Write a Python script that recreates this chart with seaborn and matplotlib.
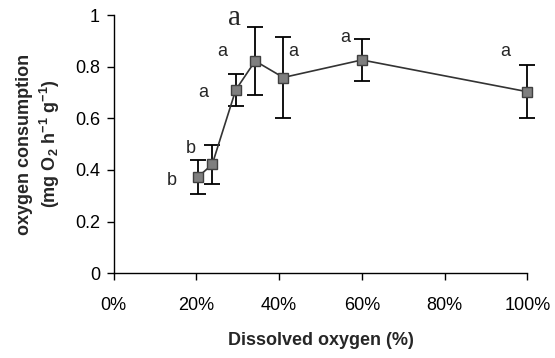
import matplotlib
matplotlib.use("Agg")
import matplotlib.pyplot as plt
import seaborn as sns
import pandas as pd
from matplotlib.ticker import PercentFormatter, MultipleLocator

dissolved_oxygen = [0.203, 0.238, 0.295, 0.342, 0.410, 0.600, 1.000]
consumption = [0.372, 0.421, 0.710, 0.822, 0.758, 0.826, 0.703]
error = [0.067, 0.075, 0.062, 0.130, 0.155, 0.083, 0.103]
letters = ["b", "b", "a", "a", "a", "a", "a"]
letter_x = [0.140, 0.186, 0.216, 0.263, 0.433, 0.559, 0.947]
letter_y = [0.360, 0.483, 0.700, 0.858, 0.858, 0.913, 0.858]

df = pd.DataFrame({"do": dissolved_oxygen, "rate": consumption, "err": error})

sns.set_style("white")
plt.rcParams["font.family"] = ["Liberation Sans", "DejaVu Sans"]

fig = plt.figure(figsize=(5.55, 3.58), dpi=100)
ax = fig.add_axes([0.205, 0.237, 0.745, 0.721])

ax.errorbar(df["do"], df["rate"], yerr=df["err"], fmt="none", ecolor="black",
            elinewidth=1.3, capsize=5.5, capthick=1.3, zorder=2, clip_on=False)
sns.lineplot(data=df, x="do", y="rate", ax=ax, color="#333333", lw=1.2,
             marker="s", markersize=7, markerfacecolor="#7f7f7f",
             markeredgecolor="#404040", markeredgewidth=1.0, zorder=3, clip_on=False)

for x, y, l in zip(letter_x, letter_y, letters):
    ax.text(x, y, l, fontsize=13, ha="center", va="center")
ax.text(0.293, 0.99, "a", fontsize=21, ha="center", va="center", family="Liberation Serif")

ax.set_xlim(0, 1.0)
ax.set_ylim(0, 1.0)
ax.xaxis.set_major_locator(MultipleLocator(0.2))
ax.xaxis.set_major_formatter(PercentFormatter(1.0, decimals=0))
ax.set_yticks([0, 0.2, 0.4, 0.6, 0.8, 1.0])
ax.set_yticklabels(["0", "0.2", "0.4", "0.6", "0.8", "1"])

for s in ["top", "right"]:
    ax.spines[s].set_visible(False)
for s in ["left", "bottom"]:
    ax.spines[s].set_color("black")
    ax.spines[s].set_linewidth(1.0)
ax.tick_params(axis="both", direction="out", length=5, width=1.0, colors="black",
               labelsize=13, bottom=True, left=True)
ax.tick_params(axis="x", pad=12)
ax.tick_params(axis="y", pad=5)

ax.set_xlabel("Dissolved oxygen (%)", fontsize=13, fontweight="bold", labelpad=13)
ax.set_ylabel("oxygen consumption\n(mg O$_\\mathregular{2}$ h$^\\mathregular{-1}$ g$^\\mathregular{-1}$)",
              fontsize=13, fontweight="bold", labelpad=9, linespacing=1.3)

fig.savefig("out.png", dpi=100)
